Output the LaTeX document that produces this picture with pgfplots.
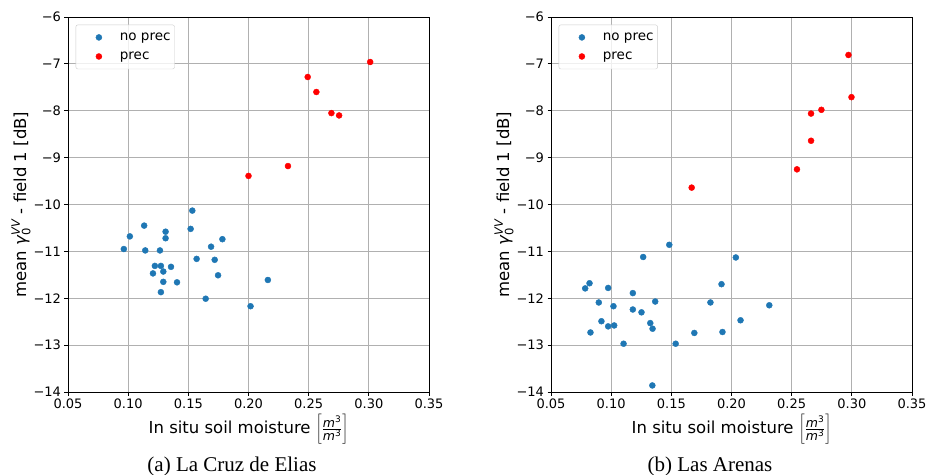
\documentclass[border=0pt]{standalone}
\usepackage{pgfplots}
\pgfplotsset{compat=1.18}
\usepackage{fontspec}
\setmainfont{DejaVu Sans}
\newfontfamily\capfont{Liberation Serif}
\definecolor{mplblue}{HTML}{1F77B4}
\definecolor{mplgrid}{HTML}{B0B0B0}

\pgfplotsset{
  moist/.style={
    scale only axis, width=361pt, height=375pt,
    xmin=0.05, xmax=0.35, ymin=-14, ymax=-6,
    xtick={0.05,0.1,0.15,0.2,0.25,0.3,0.35},
    xticklabels={0.05,0.10,0.15,0.20,0.25,0.30,0.35},
    ytick={-14,-13,-12,-11,-10,-9,-8,-7,-6},
    yticklabels={−14,−13,−12,−11,−10,−9,−8,−7,−6},
    tick label style={font=\fontsize{13}{15}\selectfont},
    grid=major, grid style={mplgrid, line width=0.8pt},
    tick align=outside, tick pos=left, major tick length=3.5pt,
    tick style={black, line width=0.8pt},
    axis line style={line width=0.8pt},
    xlabel={In situ soil moisture $\left[\frac{\mbox{\fontsize{12.5}{13}\selectfont\itshape m}^{\mbox{\fontsize{9}{10}\selectfont 3}}}{\mbox{\fontsize{12.5}{13}\selectfont\itshape m}^{\mbox{\fontsize{9}{10}\selectfont 3}}}\right]$},
    ylabel={mean $\mbox{\itshape γ}^{\mbox{\fontsize{11.5}{12}\selectfont\itshape VV}}_{\mbox{\fontsize{11.5}{12}\selectfont 0}}$ - field 1 [dB]},
    xlabel style={font=\fontsize{16.5}{18}\selectfont, at={(axis description cs:0.5,0)}, anchor=north, yshift=-19pt},
    ylabel style={font=\fontsize{16.5}{18}\selectfont, at={(axis description cs:-0.094,0.5)}, anchor=south},
    legend style={at={(axis description cs:0.0213,0.9795)}, anchor=north west,
      draw=black!20, rounded corners=2pt, fill=white, fill opacity=0.8, text opacity=1,
      font=\fontsize{13.5}{15}\selectfont, inner xsep=2pt, inner ysep=6pt, row sep=6pt},
    legend cell align=left,
    legend image code/.code={
      \path[draw=none, fill=none] (-21pt,-3pt) rectangle (19pt,3pt);
      \draw[mark repeat=1,mark phase=1,#1,opacity=1,fill opacity=1] plot coordinates {(0pt,0pt)};},
  },
  nop/.style={only marks, mark=*, mark size=3pt, draw=mplblue, fill=mplblue},
  yep/.style={only marks, mark=*, mark size=3pt, draw=red, fill=red},
}

\begin{document}
\begin{tikzpicture}
\path[use as bounding box] (0,0) rectangle (928pt,474pt);

% (a) La Cruz de Elias
\begin{axis}[moist, at={(68pt,82pt)}, anchor=south west]
\addplot[nop] coordinates {
  (0.1533,-10.13) (0.1133,-10.45) (0.1014,-10.68) (0.1311,-10.58) (0.1311,-10.72)
  (0.1519,-10.52) (0.1783,-10.74) (0.1689,-10.90) (0.0964,-10.95) (0.1142,-10.98)
  (0.1264,-10.98) (0.1569,-11.16) (0.1719,-11.18) (0.1222,-11.31) (0.1272,-11.31)
  (0.1356,-11.33) (0.1206,-11.47) (0.1292,-11.43) (0.1747,-11.51) (0.1292,-11.65)
  (0.1406,-11.66) (0.2161,-11.61) (0.1272,-11.87) (0.1644,-12.01) (0.2017,-12.17)};
\addlegendentry{no prec}
\addplot[yep] coordinates {
  (0.2492,-7.28) (0.2564,-7.60) (0.2689,-8.05) (0.2753,-8.10)
  (0.3011,-6.96) (0.2000,-9.39) (0.2328,-9.18)};
\addlegendentry{prec}
\end{axis}

% (b) Las Arenas
\begin{axis}[moist, at={(551pt,82pt)}, anchor=south west]
\addplot[nop] coordinates {
  (0.1483,-10.86) (0.1266,-11.12) (0.2036,-11.13) (0.1917,-11.70) (0.0820,-11.68)
  (0.0784,-11.79) (0.0975,-11.78) (0.1180,-11.89) (0.0897,-12.09) (0.1019,-12.17)
  (0.1366,-12.07) (0.1825,-12.09) (0.2314,-12.15) (0.1180,-12.24) (0.1252,-12.30)
  (0.0919,-12.49) (0.0975,-12.60) (0.1025,-12.58) (0.1325,-12.53) (0.1344,-12.65)
  (0.2075,-12.47) (0.0828,-12.73) (0.1691,-12.74) (0.1925,-12.72) (0.1103,-12.97)
  (0.1536,-12.97) (0.1342,-13.86)};
\addlegendentry{no prec}
\addplot[yep] coordinates {
  (0.1669,-9.64) (0.2544,-9.25) (0.2661,-8.64) (0.2661,-8.06)
  (0.2747,-7.98) (0.2972,-6.81) (0.2997,-7.71)};
\addlegendentry{prec}
\end{axis}

\node[font=\capfont\fontsize{21}{24}\selectfont, anchor=base] at (232pt,3pt) {(a) La Cruz de Elias};
\node[font=\capfont\fontsize{21}{24}\selectfont, anchor=base] at (710pt,3pt) {(b) Las Arenas};
\end{tikzpicture}
\end{document}
